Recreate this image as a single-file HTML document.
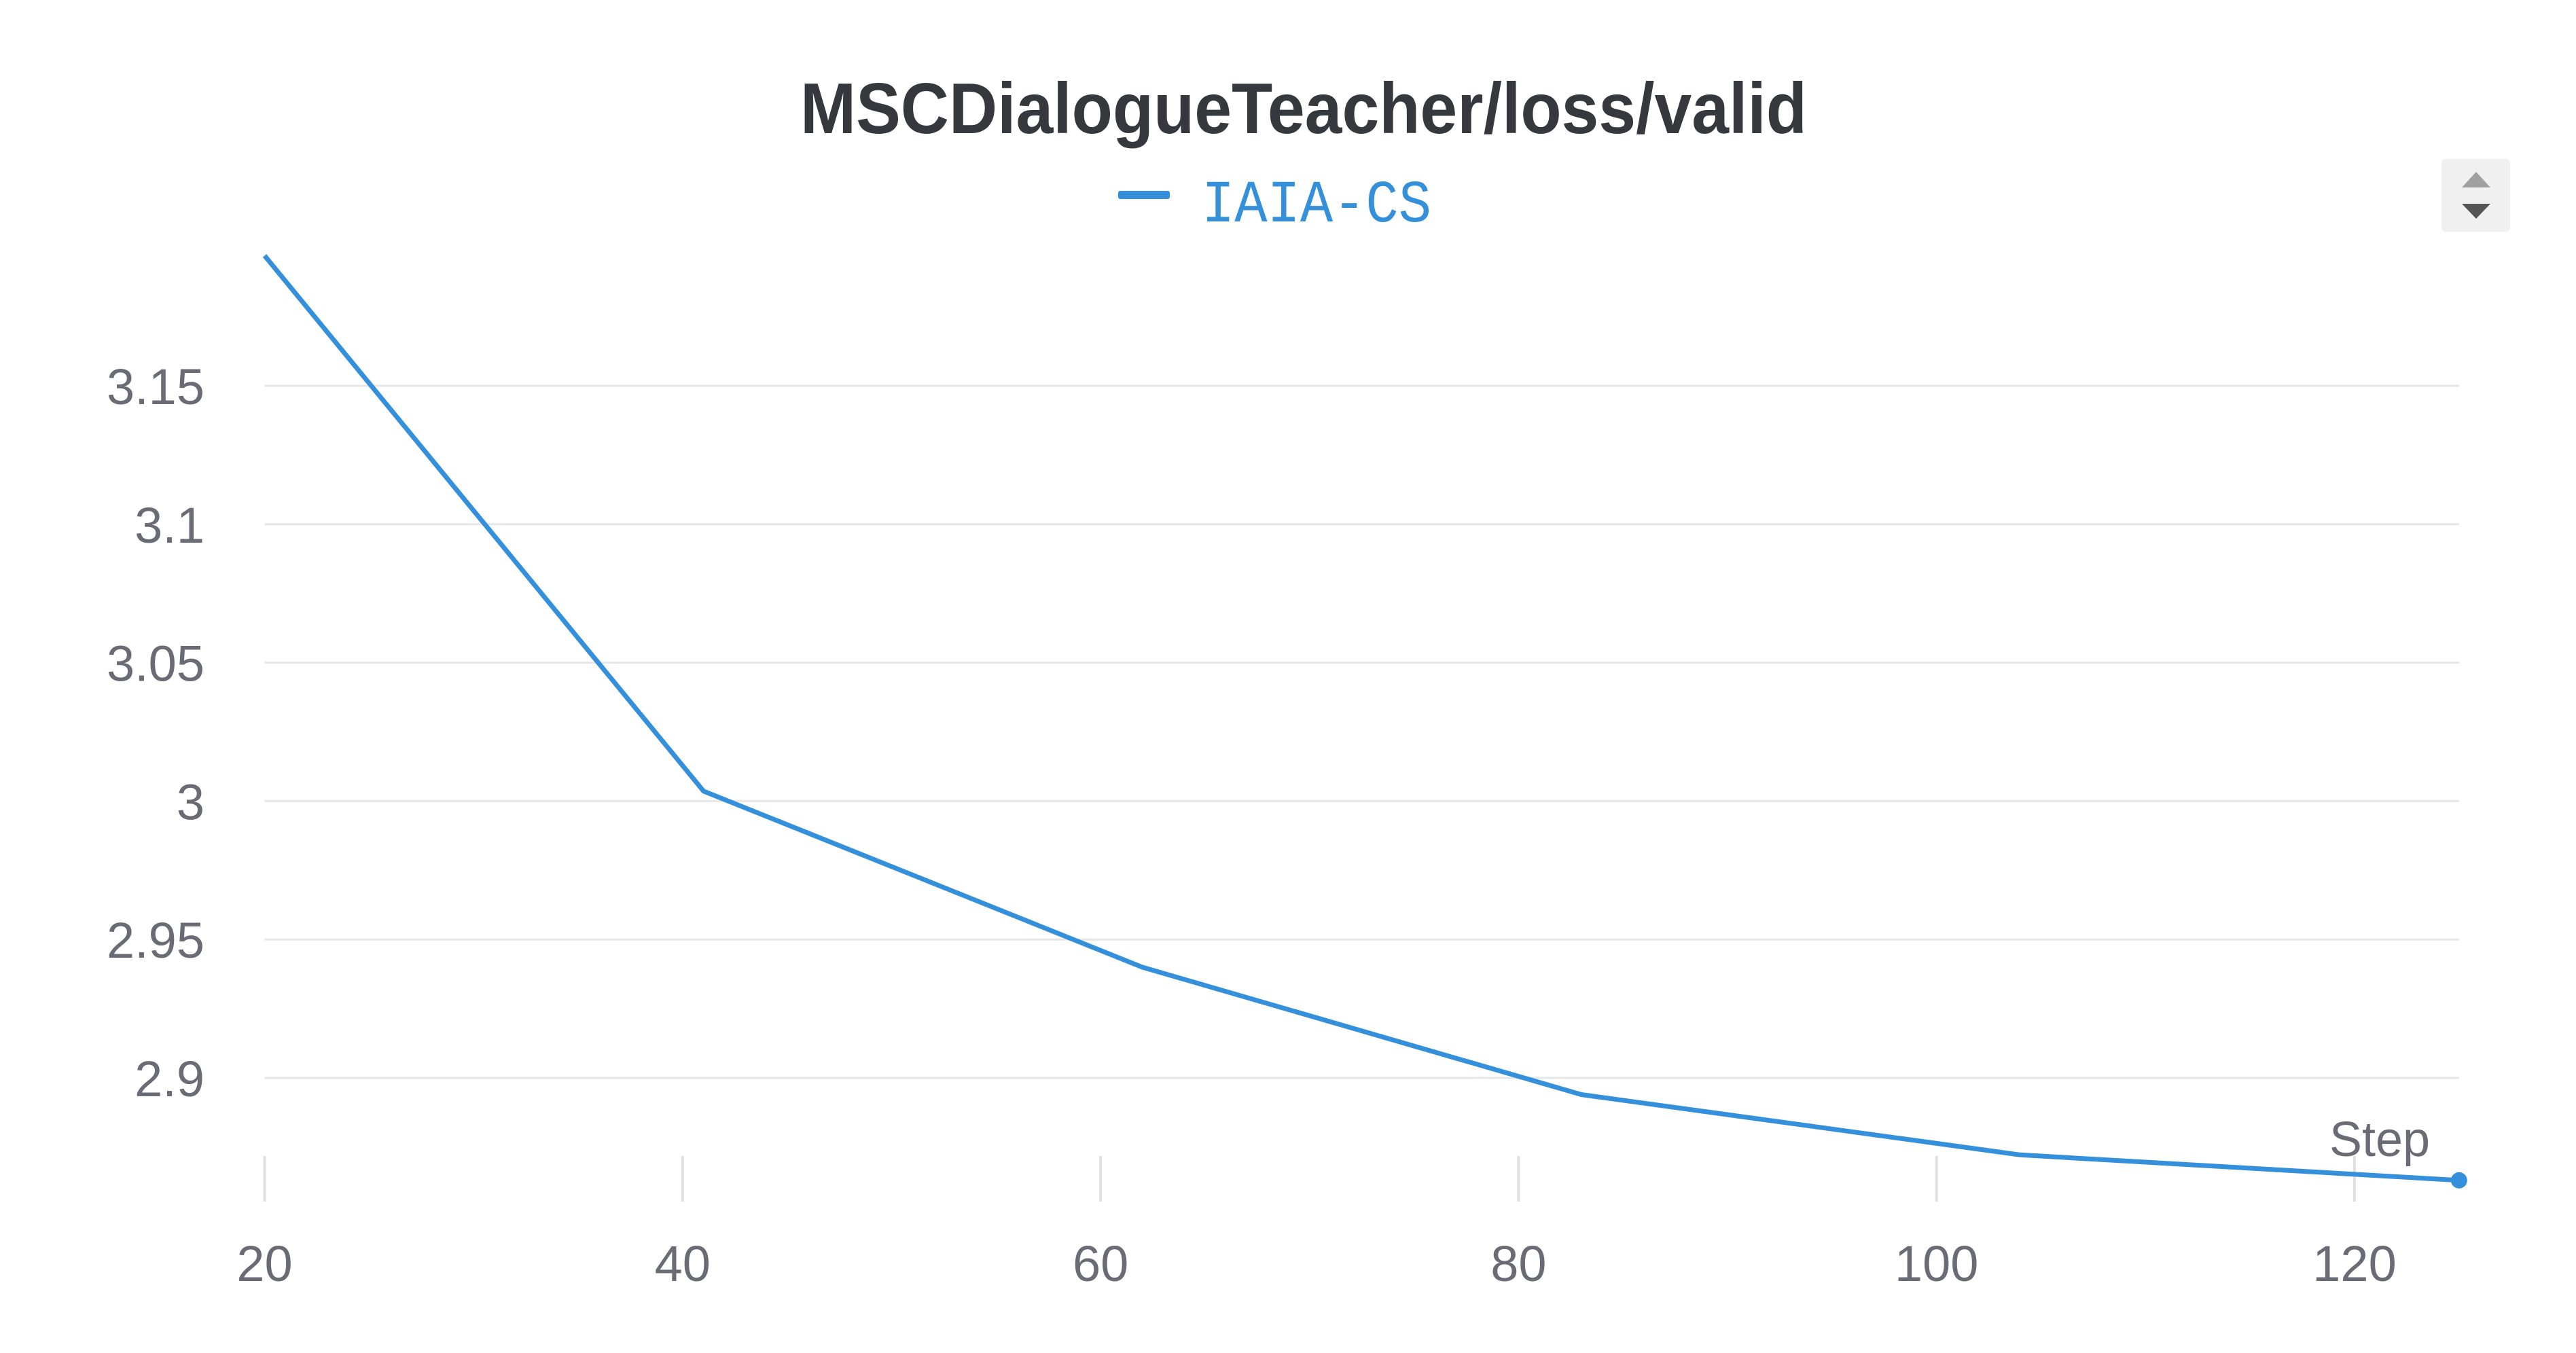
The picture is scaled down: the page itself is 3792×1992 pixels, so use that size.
<!DOCTYPE html>
<html><head><meta charset="utf-8"><style>
html,body{margin:0;padding:0;background:#fff;}
svg{display:block;}
</style></head><body>
<svg id="chart" width="3792" height="1992" viewBox="0 0 3792 1992" xmlns="http://www.w3.org/2000/svg">
<text x="1919" y="196" text-anchor="middle" font-family="Liberation Sans, sans-serif" font-weight="bold" font-size="106" fill="#35383c" textLength="1482" lengthAdjust="spacingAndGlyphs">MSCDialogueTeacher/loss/valid</text>
<g>
<rect x="1646" y="281" width="76" height="12" rx="3" fill="#3590db"/>
<text x="1769" y="326" font-family="Liberation Mono, monospace" font-size="88" fill="#3590db" textLength="338" lengthAdjust="spacingAndGlyphs">IAIA-CS</text>
</g>
<g>
<rect x="3594" y="234" width="101" height="107" rx="6" fill="#f0f0f0"/>
<polygon points="3645,253 3666,276 3624,276" fill="#a0a0a0"/>
<polygon points="3624,300 3666,300 3645,322" fill="#555"/>
</g>
<g id="grid"></g>
<g id="yt"></g>
<g id="xt"></g>
<text x="3503" y="1702" text-anchor="middle" font-family="Liberation Sans, sans-serif" font-size="72" fill="#6b6b76">Step</text>
<g id="series"></g>
</svg>
<script>
const steps = [20, 41, 62, 83, 104, 125];
const lossValues = [3.197, 3.0036, 2.940, 2.894, 2.8722, 2.863];
const yTicks = [3.15, 3.1, 3.05, 3, 2.95, 2.9];
const yTickLabels = ["3.15", "3.1", "3.05", "3", "2.95", "2.9"];
const xTicks = [20, 40, 60, 80, 100, 120];
const xTickLabels = ["20", "40", "60", "80", "100", "120"];

const NS = "http://www.w3.org/2000/svg";
function xs(v){ return 389.5 + (v - 20) * 30.765; }
function ys(v){ return 1587 - (v - 2.9) * 4076; }
function mk(tag, attrs, parent){
  const e = document.createElementNS(NS, tag);
  for (const k in attrs) e.setAttribute(k, attrs[k]);
  parent.appendChild(e);
  return e;
}
const grid = document.getElementById('grid');
const yt = document.getElementById('yt');
const xt = document.getElementById('xt');
const series = document.getElementById('series');
const x0 = xs(20), x1 = xs(125);
yTicks.forEach((v, i) => {
  const l = mk('line', {x1:x0, x2:x1, y1:ys(v), y2:ys(v), stroke:'#e6e6e6', 'stroke-width':3}, grid);
  
  
  const t = mk('text', {x:301, y:ys(v)+27, 'text-anchor':'end', 'font-family':'Liberation Sans, sans-serif', 'font-size':74, fill:'#6b6b76'}, yt);
  t.textContent = yTickLabels[i];
  
  
});
xTicks.forEach((v, i) => {
  const l = mk('line', {x1:xs(v), x2:xs(v), y1:1702, y2:1769, stroke:'#e0e0e0', 'stroke-width':4}, xt);
  
  
  const t = mk('text', {x:xs(v), y:1886, 'text-anchor':'middle', 'font-family':'Liberation Sans, sans-serif', 'font-size':74, fill:'#6b6b76'}, xt);
  t.textContent = xTickLabels[i];
  
  
});
const pts = steps.map((s, i) => xs(s).toFixed(1) + ',' + ys(lossValues[i]).toFixed(1)).join(' ');
const pl = mk('polyline', {points:pts, fill:'none', stroke:'#3590db', 'stroke-width':7, 'stroke-linejoin':'round'}, series);


const last = steps.length - 1;
const dot = mk('circle', {cx:xs(steps[last]), cy:ys(lossValues[last]), r:12, fill:'#3590db'}, series);


</script>
</body></html>
